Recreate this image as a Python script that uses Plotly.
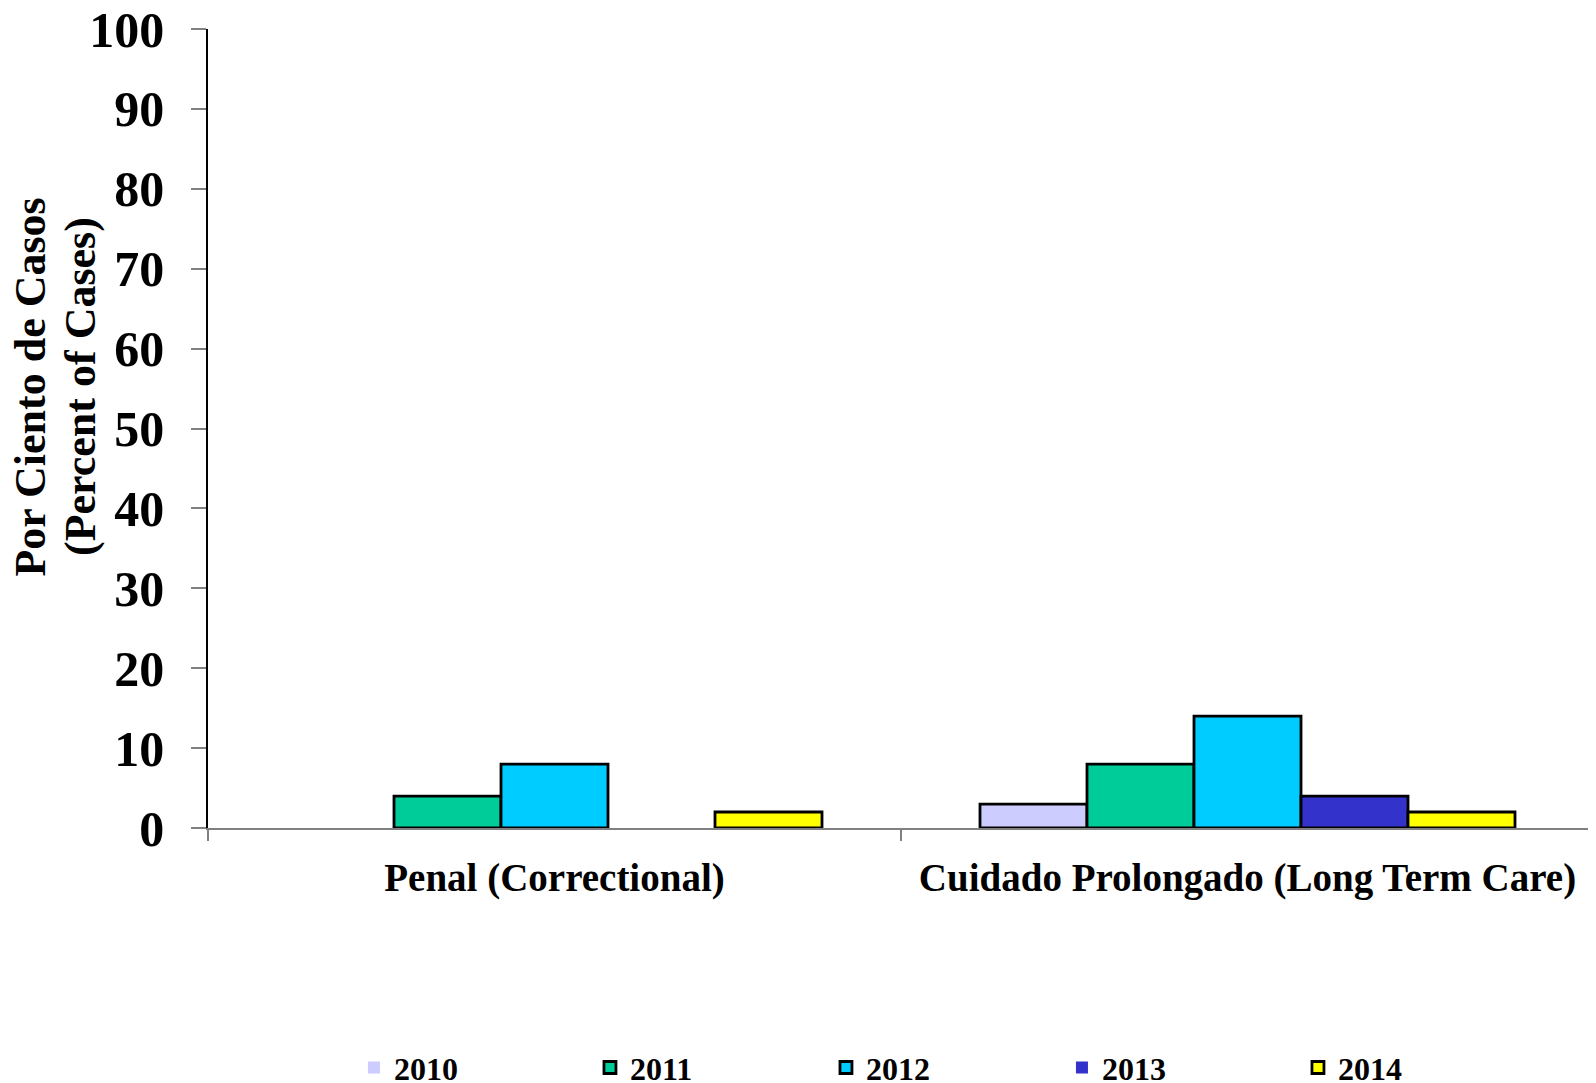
import plotly.graph_objects as go

categories = ["Penal (Correctional)", "Cuidado Prolongado (Long Term Care)"]
years = ["2010", "2011", "2012", "2013", "2014"]
values = {
    "2010": [0, 3],
    "2011": [4, 8],
    "2012": [8, 14],
    "2013": [0, 4],
    "2014": [2, 2],
}
colors = {
    "2010": "#CCCCFF",
    "2011": "#00CC99",
    "2012": "#00CCFF",
    "2013": "#3333CC",
    "2014": "#FFFF00",
}
y_ticks = [0, 10, 20, 30, 40, 50, 60, 70, 80, 90, 100]

FONT = "Liberation Serif"

fig = go.Figure()
for yr in years:
    fig.add_trace(go.Bar(
        x=categories, y=values[yr], name=yr,
        marker=dict(color=colors[yr],
                    line=dict(color="black",
                              width=[0 if v == 0 else 2.8 for v in values[yr]])),
    ))

# page body has an 8px margin; compensate so the plot sits where the reference does
fig.update_layout(
    width=1588, height=1075,
    margin=dict(l=200, r=2, t=21, b=255, autoexpand=False),
    barmode="group", bargap=0.228, bargroupgap=0,
    plot_bgcolor="white", paper_bgcolor="white",
    font=dict(family=FONT, color="black"),
    showlegend=True,
    legend=dict(
        orientation="h", x=0.531, xanchor="center", y=-0.300, yanchor="middle",
        font=dict(family=FONT, size=32, color="black", weight="bold"),
        entrywidth=191, entrywidthmode="pixels",
        tracegroupgap=0,
    ),
)
fig.update_xaxes(
    showline=True, linecolor="#808080", linewidth=1.5,
    ticks="outside", tickson="boundaries", ticklen=11, tickcolor="#808080", tickwidth=1.5,
    tickfont=dict(family=FONT, size=39, color="black", weight="bold"),
    ticklabelstandoff=14,
    showgrid=False, zeroline=False,
)
fig.update_yaxes(
    range=[0, 100], tickvals=y_ticks,
    showline=True, linecolor="black", linewidth=1.5,
    ticks="outside", ticklen=15, tickcolor="#808080", tickwidth=1.5,
    tickfont=dict(family=FONT, size=50, color="black", weight="bold"),
    ticklabelstandoff=17, ticklabeloverflow="allow",
    showgrid=False, zeroline=False,
)
fig.add_annotation(
    text="Por Ciento de Casos",
    xref="paper", yref="paper", x=-0.128, y=0.552,
    xanchor="center", yanchor="middle", textangle=-90, showarrow=False,
    font=dict(family=FONT, size=44, color="black", weight="bold"),
)
fig.add_annotation(
    text="(Percent of Cases)",
    xref="paper", yref="paper", x=-0.0916, y=0.552,
    xanchor="center", yanchor="middle", textangle=-90, showarrow=False,
    font=dict(family=FONT, size=44, color="black", weight="bold"),
)
fig.write_html("out.html")
